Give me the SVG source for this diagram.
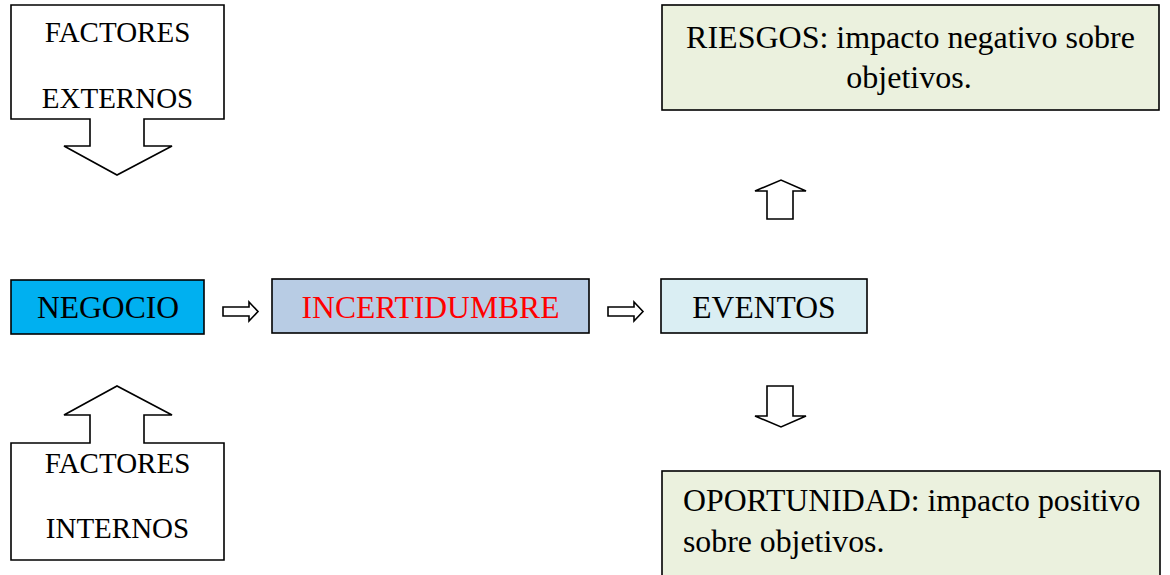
<svg xmlns="http://www.w3.org/2000/svg" width="1170" height="575" viewBox="0 0 1170 575">
<style>
.s{stroke:#000;stroke-width:1.6;stroke-linejoin:miter}
.w{fill:#fff}
.t{font-family:"Liberation Serif","Times New Roman",serif;fill:#000}
.f{font-size:29px}
.b{font-size:31.6px}
</style>
<rect width="1170" height="575" fill="#fff"/>
<g id="factores-externos">
<path class="s w" d="M11,5 H224 V119 H144 V146 H172 L117,175 L64,146 H90 V119 H11 Z"/>
<text class="t f" x="117.5" y="42" text-anchor="middle">FACTORES</text>
<text class="t f" x="117.5" y="108" text-anchor="middle">EXTERNOS</text>
</g>
<g id="factores-internos">
<path class="s w" d="M11,560 H224 V443 H144 V415 H172 L117,386 L64,415 H90 V443 H11 Z"/>
<text class="t f" x="117.5" y="473" text-anchor="middle">FACTORES</text>
<text class="t f" x="117.5" y="538" text-anchor="middle">INTERNOS</text>
</g>
<g id="negocio">
<rect class="s" x="11" y="280" width="193" height="54" fill="#00B0F0"/>
<text class="t b" x="108" y="318" text-anchor="middle">NEGOCIO</text>
</g>
<g id="incertidumbre">
<rect class="s" x="272" y="279" width="317" height="54" fill="#B8CCE4"/>
<text class="t b" x="430.5" y="318" text-anchor="middle" style="fill:#FF0000">INCERTIDUMBRE</text>
</g>
<g id="eventos">
<rect class="s" x="661" y="279" width="206" height="54" fill="#DAEEF3"/>
<text class="t b" x="764" y="318" text-anchor="middle">EVENTOS</text>
</g>
<g id="riesgos">
<rect class="s" x="662" y="5" width="497" height="105" fill="#EBF1DE"/>
<text class="t" x="910.5" y="48" text-anchor="middle" font-size="32">RIESGOS: impacto negativo sobre</text>
<text class="t" x="909" y="88" text-anchor="middle" font-size="32">objetivos.</text>
</g>
<g id="oportunidad">
<rect class="s" x="662" y="471" width="498" height="120" fill="#EBF1DE"/>
<text class="t" x="683" y="511" font-size="31.8">OPORTUNIDAD: impacto positivo</text>
<text class="t" x="683" y="552" font-size="31.8">sobre objetivos.</text>
</g>
<g id="connectors">
<path class="s w" d="M223,307 H249 V302 L258,311.5 L249,321 V316 H223 Z"/>
<path class="s w" d="M608,307 H634 V302 L643,311.5 L634,321 V316 H608 Z"/>
<path class="s w" d="M767,219 V191 H755 L781,180 L806,191 H793 V219 Z"/>
<path class="s w" d="M767,386 V416 H755 L781,427 L806,416 H793 V386 Z"/>
</g>
</svg>
